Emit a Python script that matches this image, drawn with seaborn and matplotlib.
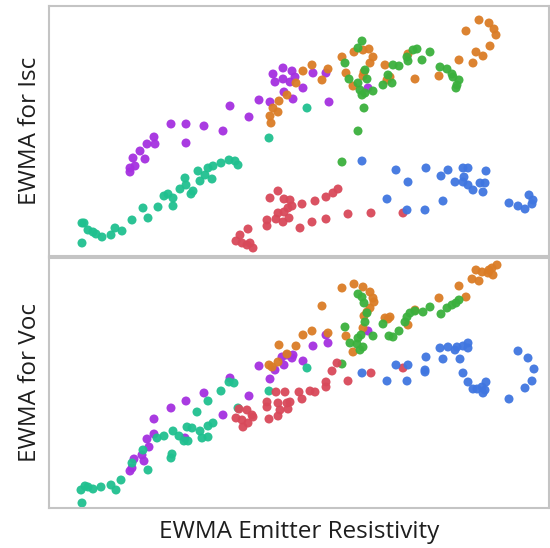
import matplotlib
matplotlib.use("Agg")
import matplotlib.pyplot as plt
import seaborn as sns
import pandas as pd

# ---------------- data (x = EWMA Emitter Resistivity, y = EWMA Isc / Voc) ----------------
groups = ["purple", "teal", "orange", "green", "red", "blue"]
colors = ["#A530E0", "#20C08F", "#DA7C26", "#3BB03D", "#D8495A", "#4076E0"]

# Top panel: EWMA for Isc
isc_purple_x = [36.2, 24.4, 27.4, 31.0, 34.8, 27.4, 21.0, 21.2, 19.6, 18.2, 19.2, 16.8, 17.2, 16.2, 16.2, 40.0,
                42.0, 44.2, 44.8, 45.2, 46.8, 46.8, 48.6, 48.2, 49.2, 47.0, 48.8, 50.8, 52.8, 55.4, 56.0, 63.8]
isc_purple_y = [60.0, 52.8, 52.8, 52.0, 50.0, 45.2, 47.6, 44.8, 44.8, 42.0, 38.8, 39.2, 36.0, 35.2, 33.6, 55.6,
                62.4, 61.6, 72.8, 69.6, 75.2, 70.8, 74.0, 69.6, 71.6, 65.6, 62.8, 67.2, 73.2, 73.2, 61.6, 67.2]

isc_teal_x = [6.6, 7.0, 7.8, 8.8, 9.4, 10.6, 6.6, 12.4, 13.2, 14.6, 16.6, 18.8, 19.8, 21.8, 23.0, 23.8, 24.8, 24.8,
              26.2, 27.2, 27.4, 28.4, 28.8, 29.8, 30.2, 31.2, 31.8, 32.8, 32.6, 34.4, 36.0, 37.2, 37.8, 44.0, 51.6]
isc_teal_y = [13.2, 13.2, 10.4, 9.6, 8.8, 7.6, 5.2, 8.4, 11.2, 10.0, 14.4, 19.2, 15.2, 19.6, 24.0, 24.8, 20.0, 23.2,
              26.8, 31.2, 28.4, 24.8, 26.0, 34.0, 30.0, 32.4, 35.2, 36.0, 30.8, 37.2, 38.4, 38.0, 36.4, 47.2, 59.2]

isc_orange_x = [50.8, 49.4, 47.6, 46.0, 44.8, 45.8, 44.2, 44.4, 52.6, 55.8, 54.6, 58.6, 59.4, 60.8, 61.0, 62.8,
                64.0, 64.8, 64.2, 63.0, 62.8, 67.2, 68.2, 67.6, 71.8, 73.2, 78.0, 82.0, 83.4, 84.8, 85.4, 86.8,
                88.2, 86.0, 88.0, 89.0, 89.4]
isc_orange_y = [74.0, 69.2, 64.4, 62.0, 59.2, 57.6, 56.0, 53.2, 76.4, 74.8, 70.4, 79.6, 73.2, 68.0, 81.6, 82.4,
                82.8, 79.6, 77.2, 73.6, 72.0, 76.4, 71.6, 70.4, 80.8, 70.8, 72.0, 78.4, 90.0, 77.2, 81.6, 80.0,
                84.0, 94.4, 93.2, 90.8, 88.4]

isc_green_x = [62.6, 61.8, 59.2, 60.0, 61.8, 62.2, 62.6, 63.2, 63.6, 63.2, 64.8, 63.0, 61.8, 58.6, 66.8, 68.6,
               67.8, 68.8, 70.0, 71.6, 71.8, 72.8, 73.6, 74.6, 76.2, 78.2, 79.6, 80.6, 80.8, 82.0, 81.6, 81.4]
isc_green_y = [86.0, 83.2, 77.2, 70.8, 69.2, 66.4, 64.4, 65.2, 70.8, 74.4, 66.0, 59.2, 50.0, 37.6, 68.4, 69.2,
               72.4, 76.4, 76.0, 79.6, 78.0, 82.4, 82.8, 78.4, 81.6, 75.6, 74.8, 72.8, 71.6, 70.4, 68.4, 67.2]

isc_red_x = [45.8, 44.2, 47.0, 48.2, 47.8, 48.6, 47.0, 45.8, 45.4, 43.6, 43.6, 46.8, 48.0, 50.6, 50.2, 52.6,
             39.8, 38.2, 37.4, 38.6, 39.6, 40.2, 40.8, 53.2, 55.4, 56.8, 57.8, 55.4, 59.8, 64.4, 70.8]
isc_red_y = [26.0, 23.2, 22.8, 22.4, 19.2, 20.0, 17.6, 17.2, 14.8, 14.4, 12.0, 13.6, 15.2, 20.8, 11.2, 13.6,
             10.8, 8.4, 6.0, 5.2, 4.4, 5.2, 3.2, 22.0, 23.6, 25.2, 26.8, 14.8, 16.8, 17.2, 17.2]

isc_blue_x = [62.6, 69.4, 71.8, 75.4, 67.6, 71.6, 75.2, 78.4, 79.8, 78.8, 82.8, 83.8, 83.0, 81.2, 82.8, 83.8,
              84.8, 86.2, 87.2, 86.8, 87.4, 92.0, 93.8, 95.2, 96.0, 96.8, 96.6]
isc_blue_y = [38.0, 34.4, 29.6, 35.2, 22.8, 18.4, 18.4, 32.0, 34.4, 22.0, 35.2, 35.2, 31.6, 29.6, 29.6, 28.4,
              26.4, 29.2, 29.2, 25.6, 34.0, 21.2, 20.0, 18.8, 24.4, 22.4, 20.8]

# Bottom panel: EWMA for Voc
voc_teal_x = [6.6, 6.4, 7.2, 7.8, 8.8, 10.4, 12.4, 13.4, 14.4, 16.6, 18.8, 19.8, 21.6, 23.0, 24.4, 24.6, 24.8,
              26.0, 27.0, 27.8, 27.6, 28.6, 30.2, 30.6, 31.8, 29.6, 31.8, 31.8, 32.8, 34.4, 36.0, 37.0, 37.8,
              44.0, 51.6]
voc_teal_y = [2.0, 7.2, 8.8, 8.4, 7.6, 8.4, 9.2, 7.2, 11.2, 18.0, 23.2, 15.2, 28.0, 28.8, 20.0, 21.6, 30.8,
              28.8, 26.8, 26.8, 32.4, 32.0, 30.8, 28.0, 28.4, 38.4, 42.8, 32.8, 34.0, 46.8, 50.4, 50.0, 40.0,
              46.8, 56.0]

voc_purple_x = [36.2, 31.0, 27.4, 24.4, 21.0, 34.8, 40.0, 21.0, 19.6, 20.0, 18.6, 17.0, 19.0, 16.6, 16.2, 27.2,
                42.0, 44.2, 45.2, 46.6, 47.6, 48.6, 47.0, 48.8, 50.8, 52.8, 55.4, 55.8, 63.8]
voc_purple_y = [52.0, 46.0, 42.8, 40.0, 35.6, 37.2, 44.8, 29.6, 27.6, 24.4, 21.2, 19.6, 18.8, 16.0, 14.8, 28.0,
                56.8, 51.6, 55.2, 60.4, 61.2, 60.0, 57.2, 61.2, 58.8, 64.8, 69.2, 66.0, 70.8]

voc_orange_x = [46.0, 49.4, 50.8, 47.6, 45.8, 44.0, 44.6, 52.6, 55.8, 54.6, 58.6, 61.0, 62.8, 64.2, 64.8, 65.0,
                64.2, 63.6, 63.0, 62.8, 59.4, 60.8, 67.2, 68.2, 67.8, 71.8, 73.2, 78.0, 82.0, 83.4, 84.6, 86.0,
                85.4, 86.6, 87.8, 88.6, 89.6, 88.8, 88.0]
voc_orange_y = [65.2, 64.8, 69.2, 61.6, 58.4, 57.2, 56.4, 70.8, 70.0, 80.8, 88.0, 89.6, 88.4, 86.4, 84.0, 82.4,
                80.0, 78.4, 76.8, 72.0, 68.8, 62.4, 76.0, 76.4, 75.6, 73.2, 79.2, 84.0, 88.8, 84.4, 91.6, 90.8,
                95.2, 94.4, 94.0, 96.0, 97.2, 93.2, 95.2]

voc_green_x = [61.8, 62.6, 63.0, 63.6, 63.2, 59.2, 62.4, 61.8, 60.2, 61.6, 62.8, 62.2, 64.8, 58.6, 66.8, 68.0,
               68.8, 70.0, 71.2, 71.6, 72.2, 73.2, 74.8, 76.2, 78.4, 79.6, 80.6, 81.4, 82.0]
voc_green_y = [85.6, 84.4, 82.0, 78.0, 74.4, 72.4, 69.2, 68.0, 66.0, 65.6, 64.4, 63.2, 68.8, 57.6, 73.6, 68.8,
               68.4, 70.8, 74.4, 76.4, 78.0, 78.8, 78.4, 80.4, 77.6, 80.0, 81.2, 82.0, 83.2]

voc_red_x = [38.0, 39.6, 40.6, 37.4, 38.6, 38.8, 39.8, 40.8, 43.6, 43.6, 45.4, 47.2, 45.8, 47.6, 48.2, 47.8,
             46.2, 45.8, 44.0, 50.0, 50.6, 52.2, 53.2, 55.4, 55.4, 56.6, 57.6, 59.8, 64.4, 70.8]
voc_red_y = [39.6, 39.2, 37.2, 36.0, 35.2, 32.4, 34.0, 36.4, 42.4, 40.4, 46.4, 46.4, 42.0, 42.0, 42.4, 39.6,
             39.2, 36.8, 35.6, 46.4, 43.6, 46.8, 46.4, 50.4, 48.4, 54.8, 58.0, 50.8, 54.0, 56.0]

voc_blue_x = [62.6, 67.6, 69.4, 71.8, 71.6, 75.2, 75.2, 75.4, 78.2, 79.8, 78.8, 81.2, 81.6, 82.8, 83.8, 83.8,
              82.2, 82.8, 83.8, 84.8, 85.6, 86.6, 87.4, 86.8, 87.2, 92.0, 93.8, 95.8, 97.0, 96.6, 95.2]
voc_blue_y = [54.0, 50.8, 57.2, 57.2, 50.8, 55.2, 54.4, 60.4, 64.0, 64.4, 59.6, 63.2, 64.4, 64.8, 66.0, 64.0,
              59.6, 54.0, 50.4, 47.6, 47.6, 48.4, 50.4, 46.0, 47.2, 43.6, 62.8, 60.0, 55.6, 50.8, 48.0]

isc_series = {
    "purple": (isc_purple_x, isc_purple_y), "teal": (isc_teal_x, isc_teal_y),
    "orange": (isc_orange_x, isc_orange_y), "green": (isc_green_x, isc_green_y),
    "red": (isc_red_x, isc_red_y), "blue": (isc_blue_x, isc_blue_y),
}
voc_series = {
    "purple": (voc_purple_x, voc_purple_y), "teal": (voc_teal_x, voc_teal_y),
    "orange": (voc_orange_x, voc_orange_y), "green": (voc_green_x, voc_green_y),
    "red": (voc_red_x, voc_red_y), "blue": (voc_blue_x, voc_blue_y),
}


def to_frame(series):
    rows = []
    for g, (xs, ys) in series.items():
        for x, y in zip(xs, ys):
            rows.append({"x": x, "y": y, "group": g})
    return pd.DataFrame(rows)


df_isc = to_frame(isc_series)
df_voc = to_frame(voc_series)
palette = dict(zip(groups, colors))

# ---------------- plot ----------------
sns.set_theme(style="white")
plt.rcParams["font.family"] = ["Open Sans", "DejaVu Sans"]

fig = plt.figure(figsize=(5.5, 5.48), dpi=100)
W, H = 550, 548
ax1 = fig.add_axes([49 / W, (H - 256) / H, 500 / W, 250 / H])
ax2 = fig.add_axes([49 / W, (H - 508) / H, 500 / W, 250 / H])

for ax, df, lab in [(ax1, df_isc, "EWMA for Isc"), (ax2, df_voc, "EWMA for Voc")]:
    sns.scatterplot(data=df, x="x", y="y", hue="group", palette=palette, hue_order=groups,
                    s=42, linewidth=0, alpha=0.95, legend=False, ax=ax)
    ax.set_xlim(0, 100)
    ax.set_ylim(0, 100)
    ax.set_xticks([])
    ax.set_yticks([])
    ax.set_ylabel(lab, fontsize=17.5, color="#1e1e1e", labelpad=5)
    ax.set_xlabel("")
    for sp in ax.spines.values():
        sp.set_color("#c4c4c4")
        sp.set_linewidth(1.5)

ax2.set_xlabel("EWMA Emitter Resistivity", fontsize=17.5, color="#1e1e1e", labelpad=9)

fig.savefig("out.png", dpi=100)
